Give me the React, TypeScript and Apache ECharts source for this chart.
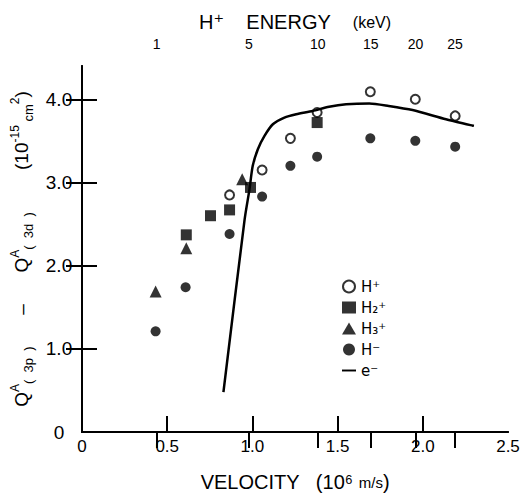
import React, { useEffect, useRef } from 'react';
import * as echarts from 'echarts';

// ---- data ----
const hPlusX = [0.866, 1.057, 1.223, 1.38, 1.692, 1.956, 2.19];
const hPlusY = [2.85, 3.15, 3.53, 3.84, 4.09, 4.0, 3.8];
const h2PlusX = [0.612, 0.754, 0.866, 0.989, 1.38];
const h2PlusY = [2.37, 2.6, 2.67, 2.94, 3.72];
const h3PlusX = [0.432, 0.612, 0.94];
const h3PlusY = [1.69, 2.21, 3.04];
const hMinusX = [0.432, 0.608, 0.866, 1.057, 1.223, 1.38, 1.692, 1.956, 2.19];
const hMinusY = [1.21, 1.74, 2.38, 2.83, 3.2, 3.31, 3.53, 3.5, 3.43];
const eMinusX = [0.83, 0.954, 0.983, 1.002, 1.032, 1.071, 1.12, 1.188, 1.257, 1.354, 1.45, 1.55, 1.686, 1.8, 1.94, 2.136, 2.3];
const eMinusY = [0.48, 2.55, 2.92, 3.2, 3.4, 3.56, 3.7, 3.78, 3.82, 3.86, 3.91, 3.94, 3.95, 3.92, 3.87, 3.76, 3.68];

const xLabelValues = [0, 0.5, 1.0, 1.5, 2.0, 2.5];
const xTickValues = [0.5, 1.0, 1.5, 2.0];
const yLabelValues = [0, 1, 2, 3, 4];
const yTickValues = [1, 2, 3, 4];
const energyTicks = [1, 5, 10, 15, 20, 25]; // keV (H+)

const legendNames = ['H⁺', 'H₂⁺', 'H₃⁺', 'H⁻', 'e⁻'];

// proton velocity (10^6 m/s) for kinetic energy in keV
const velocityOf = (keV: number) =>
  Math.sqrt((2 * keV * 1.602176634e-16) / 1.67262192e-27) / 1e6;
const energyVel = energyTicks.map(velocityOf);

const zip = (xs: number[], ys: number[]) => xs.map((x, i) => [x, ys[i]]);

const FONT = '"Liberation Sans", "DejaVu Sans", Arial, sans-serif';

export default function App() {
  const ref = useRef<HTMLDivElement>(null);
  useEffect(() => {
    document.body.style.margin = '0';
    if (!ref.current) return;
    const chart = echarts.init(ref.current, null, { renderer: 'svg' });
    const axisLine = { show: true, lineStyle: { color: '#000', width: 2 } };
    const fmt = (v: number) => (v === 0 ? '0' : v.toFixed(1));
    chart.setOption({
      animation: false,
      backgroundColor: '#fff',
      textStyle: { fontFamily: FONT, color: '#000' },
      grid: { left: 82, right: 15, top: 66, bottom: 61, containLabel: false, outerBoundsMode: 'none' },
      legend: {
        orient: 'vertical',
        left: 337,
        top: 274,
        itemWidth: 14,
        itemHeight: 12,
        itemGap: 6,
        textStyle: { fontSize: 15, color: '#000', fontFamily: '"DejaVu Sans", sans-serif' },
        data: [
          legendNames[0],
          legendNames[1],
          legendNames[2],
          legendNames[3],
          { name: legendNames[4], icon: 'path://M0,0H16V2.2H0Z' },
        ],
      },
      xAxis: [
        {
          type: 'value',
          position: 'bottom',
          min: 0,
          max: 2.5,
          axisLine,
          splitLine: { show: false },
          axisTick: { show: true, inside: true, length: 16, lineStyle: { width: 2, color: '#000' }, customValues: xTickValues },
          axisLabel: { fontSize: 17, color: '#000', margin: 6, customValues: xLabelValues, formatter: fmt },
          name: 'VELOCITY   (10⁶ {s|m/s})',
          nameLocation: 'middle',
          nameGap: 40,
          nameTextStyle: { fontSize: 20, color: '#000', rich: { s: { fontSize: 15, color: '#000' } } },
        },
        {
          type: 'value',
          position: 'top',
          min: 0,
          max: 2.5,
          axisLine,
          splitLine: { show: false },
          axisTick: { show: true, inside: true, length: 16, lineStyle: { width: 2, color: '#000' }, customValues: energyVel },
          axisLabel: {
            fontSize: 14,
            color: '#000',
            margin: 15,
            customValues: energyVel,
            formatter: (v: number) => {
              let best = 0;
              energyVel.forEach((ev, i) => {
                if (Math.abs(ev - v) < Math.abs(energyVel[best] - v)) best = i;
              });
              return String(energyTicks[best]);
            },
          },
          name: 'H⁺    ENERGY    {k|(keV)}',
          nameLocation: 'middle',
          nameGap: 34,
          nameTextStyle: { fontSize: 20, color: '#000', rich: { k: { fontSize: 16, color: '#000' } } },
        },
      ],
      yAxis: [
        {
          type: 'value',
          position: 'left',
          min: 0,
          max: 4.4,
          axisLine,
          splitLine: { show: false },
          axisTick: { show: true, inside: true, length: 15, lineStyle: { width: 2, color: '#000' }, customValues: yTickValues },
          axisLabel: {
            color: '#000',
            margin: 6,
            customValues: yLabelValues,
            formatter: (v: number) => '{c|' + fmt(v) + '}',
            rich: { c: { fontSize: 19, width: 34, align: 'center', color: '#000' } },
          },
          name:
            '{q|Q}{sup|A}{sub|(  3p  )}{q|      –      Q}{sup|A}{sub|(  3d  )}{q|        (10}{sup|-15}{sub| cm}{sup|2}{q|)}',
          nameLocation: 'middle',
          nameGap: 34,
          nameRotate: 90,
          nameTextStyle: {
            fontSize: 19,
            color: '#000',
            rich: {
              q: { fontSize: 19, lineHeight: 26, color: '#000', verticalAlign: 'middle' },
              sup: { fontSize: 12, lineHeight: 12, color: '#000', verticalAlign: 'top' },
              sub: { fontSize: 13, lineHeight: 14, color: '#000', verticalAlign: 'bottom' },
            },
          },
        },
        {
          type: 'value',
          position: 'right',
          min: 0,
          max: 4.4,
          axisLine,
          splitLine: { show: false },
          axisTick: { show: true, inside: true, length: 16, lineStyle: { width: 2, color: '#000' }, customValues: yTickValues },
          axisLabel: { show: false },
        },
      ],
      series: [
        {
          name: legendNames[0],
          type: 'scatter',
          symbol: 'circle',
          symbolSize: 9,
          itemStyle: { color: '#fff', borderColor: '#000', borderWidth: 2 },
          data: zip(hPlusX, hPlusY),
          z: 3,
        },
        {
          name: legendNames[1],
          type: 'scatter',
          symbol: 'rect',
          symbolSize: 11,
          itemStyle: { color: '#000' },
          data: zip(h2PlusX, h2PlusY),
          z: 3,
        },
        {
          name: legendNames[2],
          type: 'scatter',
          symbol: 'triangle',
          symbolSize: 12,
          itemStyle: { color: '#000' },
          data: zip(h3PlusX, h3PlusY),
          z: 3,
        },
        {
          name: legendNames[3],
          type: 'scatter',
          symbol: 'circle',
          symbolSize: 10,
          itemStyle: { color: '#000' },
          data: zip(hMinusX, hMinusY),
          z: 3,
        },
        {
          name: legendNames[4],
          type: 'line',
          showSymbol: false,
          symbol: 'none',
          smooth: 0.25,
          itemStyle: { color: '#000' },
          lineStyle: { color: '#000', width: 2.5 },
          data: zip(eMinusX, eMinusY),
          z: 4,
        },
      ],
    });
    return () => chart.dispose();
  }, []);
  return <div ref={ref} style={{ width: 523, height: 493 }} />;
}
